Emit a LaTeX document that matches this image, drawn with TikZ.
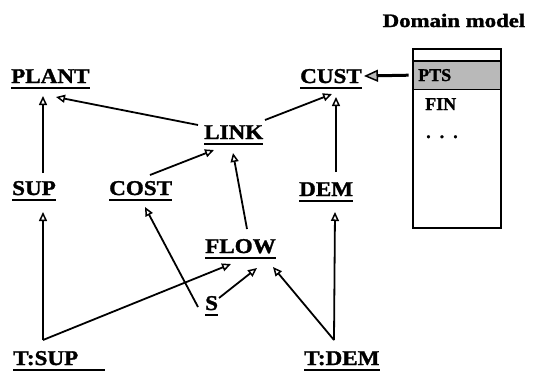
\documentclass[tikz,border=0pt]{standalone}
\usepackage{fontspec}
\setmainfont{Liberation Serif}[FakeBold=1.2]
\newfontfamily\entfam{Liberation Serif}[FakeStretch=1.1,FakeBold=1.5]
\newfontfamily\titlefam{Liberation Serif}[FakeStretch=1.2,FakeBold=1.5]
\usetikzlibrary{arrows.meta}

\begin{document}
\begin{tikzpicture}[x=1pt,y=-1pt,
  ent/.style={inner sep=0pt, anchor=base west, font=\entfam\bfseries\fontsize{21}{24}\selectfont},
  boxtext/.style={inner sep=0pt, anchor=base west, font=\bfseries\fontsize{18}{20}\selectfont},
  uline/.style={line width=2pt},
  link/.style={line width=1.8pt, -{Triangle[open,length=9pt,width=8pt,line width=1.5pt]}},
  pointer/.style={line width=3pt, -{Triangle[length=14pt,width=12pt,fill=gray!55,line width=1.5pt]}},
]
\useasboundingbox (0,0) rectangle (542,375);

% entity names
\node[ent] (plant) at (11,83)  {PLANT};
\node[ent] (cust)  at (300,83) {CUST};
\node[ent] (link)  at (204,139) {LINK};
\node[ent] (sup)   at (12,195) {SUP};
\node[ent] (cost)  at (109,195) {COST};
\node[ent] (dem)   at (299,196) {DEM};
\node[ent] (flow)  at (205,253) {FLOW};
\node[ent] (s)     at (205,310) {S};
\node[ent] (tsup)  at (13,365) {T:SUP};
\node[ent] (tdem)  at (304,365) {T:DEM};

% underlines
\foreach \n in {plant,cust,link,sup,cost,dem,flow,s,tdem}
  \draw[uline] ([yshift=-4.5pt]\n.base west) -- ([yshift=-4.5pt]\n.base east);
\draw[uline] ([yshift=-4.5pt]tsup.base west) -- ([xshift=27pt,yshift=-4.5pt]tsup.base east);

% branching points above the two trigger nodes
\coordinate (tsupv) at (43,340);
\coordinate (tdemv) at (334,340);

% links
\draw[link] ([shift={(31,-22)}]sup.base west)  -- ([shift={(32,13)}]plant.base west);
\draw[link] ([shift={(-6,-14)}]link.base west) -- ([shift={(45,14)}]plant.base west);
\draw[link] ([shift={(61,-19)}]link.base west) -- ([shift={(32,11)}]cust.base west);
\draw[link] ([shift={(41,-20)}]cost.base west) -- ([shift={(10,11)}]link.base west);
\draw[link] ([shift={(42,-24)}]flow.base west) -- ([shift={(29,14)}]link.base west);
\draw[link] ([shift={(37,-24)}]dem.base west)  -- ([shift={(36,14)}]cust.base west);
\draw[link] (tsupv) -- ([shift={(31,17)}]sup.base west);
\draw[link] (tsupv) -- ([shift={(26,11)}]flow.base west);
\draw[link] ([shift={(-7,-3)}]s.base west)   -- ([shift={(36,12)}]cost.base west);
\draw[link] ([shift={(14,-12)}]s.base west)  -- ([shift={(52,15)}]flow.base west);
\draw[link] (tdemv) -- ([shift={(68,14)}]flow.base west);
\draw[link] (tdemv) -- ([shift={(36,16)}]dem.base west);

% domain model box
\node[font=\titlefam\bfseries\fontsize{19}{22}\selectfont, inner sep=0pt, anchor=base] (title) at (454,27) {Domain model};
\node[fill=gray!55, minimum width=88pt, minimum height=28pt, inner sep=0pt, anchor=north west] (pts) at (412.7,61) {};
\node[draw, line width=1.6pt, minimum width=88pt, minimum height=179pt, inner sep=0pt] (dm) at (456.7,138.5) {};
\draw[line width=1.6pt] (pts.north west) -- (pts.north east);
\draw[line width=1.6pt] (pts.south west) -- (pts.south east);
\node[boxtext] (ptstxt) at (418,81) {PTS};
\node[boxtext] (fin) at (425,110) {FIN};
\node[boxtext] (dots) at (426,138) {.\hspace{9pt}.\hspace{9pt}.};

\draw[pointer] ([xshift=-4pt]pts.west) -- ([shift={(64,-7)}]cust.base west);
\end{tikzpicture}
\end{document}
